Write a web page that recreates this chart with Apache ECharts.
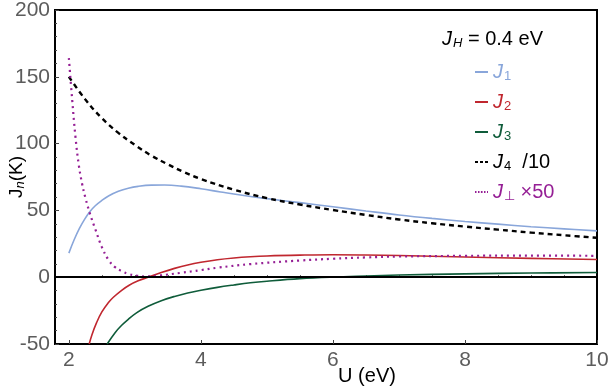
<!DOCTYPE html>
<html>
<head>
<meta charset="utf-8">
<script src="https://cdn.jsdelivr.net/npm/echarts@6/dist/echarts.min.js"></script>
<style>
  html, body { margin: 0; padding: 0; background: #fff; }
  #chart { width: 610px; height: 390px; }
</style>
</head>
<body>
<div id="chart"></div>
<script>
// values, [U (eV), J (K)]
var j1Points = [[2,18],[2.08,28],[2.16,36.5],[2.24,43.5],[2.32,49.2],[2.4,53.5],[2.5,57.5],[2.6,60.8],[2.75,64.3],[2.9,66.6],[3.05,68],[3.25,68.9],[3.45,69],[3.7,68.2],[4,66.2],[4.3,63.8],[4.6,61.5],[5,58.8],[5.5,55.8],[6,52.7],[6.5,49.6],[7,46.6],[7.5,44],[8,41.7],[8.5,39.7],[9,37.8],[9.5,36.2],[10,34.7]];
var j2Points = [[2.308,-50],[2.35,-43],[2.42,-34],[2.5,-26],[2.6,-19],[2.67,-15.2],[2.8,-9.8],[2.92,-5.8],[3.05,-2.7],[3.2,0],[3.4,3.5],[3.6,6.6],[3.8,9.2],[4,11.2],[4.25,13.1],[4.5,14.4],[4.75,15.3],[5,15.9],[5.5,16.5],[6,16.8],[6.5,16.6],[7,16.2],[8,15.1],[9,14.1],[10,13.2]];
var j3Points = [[2.58,-50],[2.7,-41.5],[2.8,-36],[2.9,-31.5],[3.03,-26.5],[3.2,-21.8],[3.4,-17.6],[3.6,-14.4],[3.8,-11.8],[4,-9.8],[4.25,-7.6],[4.5,-5.8],[4.75,-4.2],[5,-3],[5.5,-1.1],[6,0.1],[6.5,0.9],[7,1.6],[8,2.5],[9,3.1],[10,3.5]];
var j4Points = [[2,150],[2.25,133],[2.5,119],[2.75,108],[3,99],[3.25,91],[3.5,84.5],[3.75,78.5],[4,73.5],[4.5,65.5],[5,59.2],[5.5,54.4],[6,50.3],[6.5,46.6],[7,43.2],[7.5,40.4],[8,37.9],[8.5,35.6],[9,33.4],[9.5,31.4],[10,29.5]];
var jPerpPoints = [[2,164],[2.05,133],[2.1,105],[2.15,84],[2.2,70],[2.25,59.5],[2.32,47.5],[2.4,36],[2.5,22.5],[2.6,13],[2.7,7.5],[2.8,4.5],[2.9,2.5],[3.03,1.1],[3.2,0.6],[3.38,1.3],[3.7,3.3],[4,5.3],[4.25,7.1],[4.75,9.8],[5.5,12.5],[6,13.8],[6.5,14.8],[7,15.5],[8,16],[9,16.2],[10,16]];

// tick positions on the U axis
var uMajorTicks = [2, 4, 6, 8, 10];
var uMinorTicks = [2.5, 3, 3.5, 4.5, 5, 5.5, 6.5, 7, 7.5, 8.5, 9, 9.5];

var seriesNames = ['J1', 'J2', 'J3', 'J4', 'Jperp'];
var legendLabels = {
  J1: '{j|J}{s|1}',
  J2: '{j|J}{s|2}',
  J3: '{j|J}{s|3}',
  J4: '{j|J}{s|4}{t|  /10}',
  Jperp: '{j|J}{s|⊥}{t| ×50}'
};
var colors = {
  J1: '#89a6da',
  J2: '#c0272f',
  J3: '#0f5c3a',
  J4: '#000000',
  Jperp: '#951f95'
};
// shorter dash pattern for the little legend icons
var legendDash = { J4: [3, 2], Jperp: [1.5, 1.5] };

var font = 'Liberation Sans, Arial, sans-serif';
var chart = echarts.init(document.getElementById('chart'));

function lineSeries(name, data, width, type) {
  return {
    name: name,
    type: 'line',
    data: data,
    showSymbol: false,
    symbol: 'none',
    smooth: 0.4,
    color: colors[name],
    lineStyle: { color: colors[name], width: width, type: type }
  };
}

var series = [
  lineSeries('J1', j1Points, 1.6, 'solid'),
  lineSeries('J2', j2Points, 1.6, 'solid'),
  lineSeries('J3', j3Points, 1.6, 'solid'),
  lineSeries('J4', j4Points, 2.4, [5, 4]),
  lineSeries('Jperp', jPerpPoints, 2.2, [2, 4])
];
// black zero line
series[0].markLine = {
  silent: true,
  symbol: ['none', 'none'],
  label: { show: false },
  lineStyle: { color: '#000', width: 2, type: 'solid' },
  data: [{ yAxis: 0 }]
};

var axisFrame = { onZero: false, lineStyle: { color: '#000', width: 2 } };

var option = {
  animation: false,
  textStyle: { fontFamily: font },
  grid: {
    left: 55, right: 13, top: 10, bottom: 46,
    outerBoundsMode: 'none',
    containLabel: false,
    show: true, borderColor: '#000', borderWidth: 2
  },
  title: {
    text: '{j|J}{s|H}{t| = 0.4 eV}',
    left: 437, top: 24,
    textStyle: {
      fontFamily: font,
      fontWeight: 'normal',
      rich: {
        j: { fontStyle: 'italic', fontWeight: 'normal', fontSize: 20, color: '#000', fontFamily: font },
        s: { fontStyle: 'italic', fontWeight: 'normal', fontSize: 13, color: '#000', verticalAlign: 'bottom', fontFamily: font, padding: [8, 0, 0, 1] },
        t: { fontSize: 20, fontWeight: 'normal', color: '#000', fontFamily: font }
      }
    }
  },
  legend: {
    orient: 'vertical',
    left: 469, top: 56,
    itemWidth: 13, itemHeight: 2,
    itemGap: 8,
    data: seriesNames.map(function (n) {
      var item = { name: n, textStyle: { color: colors[n] } };
      if (legendDash[n]) item.lineStyle = { type: legendDash[n], width: 2 };
      return item;
    }),
    formatter: function (name) { return legendLabels[name]; },
    textStyle: {
      fontFamily: font,
      lineHeight: 22,
      rich: {
        j: { fontStyle: 'italic', fontSize: 20, fontFamily: font },
        s: { fontSize: 13, verticalAlign: 'bottom', fontFamily: font, padding: [8, 0, 0, 1] },
        t: { fontSize: 20, fontFamily: font }
      }
    }
  },
  xAxis: [
    {
      type: 'value',
      min: 1.79, max: 10,
      name: 'U (eV)',
      nameLocation: 'middle',
      nameGap: 22,
      nameMoveOverlap: false,
      nameTextStyle: { fontSize: 20, color: '#000', fontFamily: font, padding: [0, 0, 0, 82] },
      axisLine: axisFrame,
      axisTick: { inside: true, length: 4, customValues: uMajorTicks, lineStyle: { color: '#444' } },
      axisLabel: { fontSize: 21, color: '#5c5c5c', margin: 6, fontFamily: font, customValues: uMajorTicks },
      splitLine: { show: false }
    },
    {
      // minor ticks only
      type: 'value',
      min: 1.79, max: 10,
      position: 'bottom',
      axisLine: { show: false },
      axisTick: { inside: true, length: 2, customValues: uMinorTicks, lineStyle: { color: '#444' } },
      axisLabel: { show: false, customValues: uMinorTicks },
      splitLine: { show: false }
    }
  ],
  yAxis: {
    type: 'value',
    min: -50, max: 200, interval: 50,
    name: '{j|J}{s|n}{t|(K)}',
    nameLocation: 'middle',
    nameGap: 28,
    nameMoveOverlap: false,
    nameRotate: 90,
    nameTextStyle: {
      fontFamily: font,
      rich: {
        j: { fontSize: 19, color: '#000', fontFamily: font },
        s: { fontSize: 13, fontStyle: 'italic', color: '#000', verticalAlign: 'bottom', fontFamily: font, padding: [8, 0, 0, 0] },
        t: { fontSize: 19, color: '#000', fontFamily: font }
      }
    },
    axisLine: axisFrame,
    axisTick: { inside: true, length: 4, lineStyle: { color: '#444' } },
    minorTick: { show: true, splitNumber: 5, length: 2, lineStyle: { color: '#444' } },
    axisLabel: { fontSize: 21, color: '#5c5c5c', margin: 5, fontFamily: font },
    splitLine: { show: false }
  },
  series: series
};

chart.setOption(option);
</script>
</body>
</html>
